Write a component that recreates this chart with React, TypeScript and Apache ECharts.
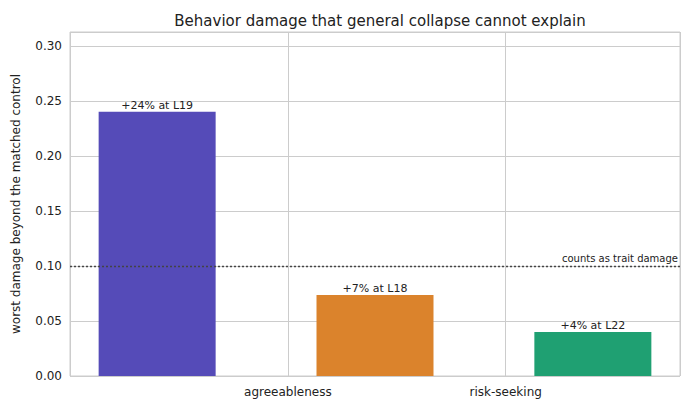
import React, { useEffect, useRef } from 'react';
import * as echarts from 'echarts';

const categories = ['sycophancy', 'agreeableness', 'risk-seeking'];
const damage = [0.24, 0.0736, 0.04];
const labels = ['+24% at L19', '+7% at L18', '+4% at L22'];
const colors = ['#554bb8', '#db832c', '#1fa072'];
const threshold = 0.1;

const App: React.FC = () => {
  const chartRef = useRef<HTMLDivElement>(null);

  useEffect(() => {
    if (!chartRef.current) return;
    const chart = echarts.init(chartRef.current, undefined, { renderer: 'svg' });
    const font = 'DejaVu Sans';
    chart.setOption({
      animation: false,
      textStyle: { fontFamily: font },
      title: {
        text: 'Behavior damage that general collapse cannot explain',
        left: 375, top: 8, textAlign: 'center',
        textStyle: { fontSize: 15, fontWeight: 'normal', color: '#222', fontFamily: font },
      },
      grid: { left: 70, right: 9, top: 32, bottom: 33, show: true, borderColor: '#cccccc', borderWidth: 1 },
      xAxis: {
        type: 'value', min: -0.4, max: 2.4, interval: 1,
        axisLine: { show: false }, axisTick: { show: false },
        splitLine: { lineStyle: { color: '#cccccc' } },
        axisLabel: {
          color: '#222', fontSize: 12, margin: 10, showMinLabel: false, showMaxLabel: false,
          formatter: (v: number) => categories[Math.round(v)] ?? '',
        },
      },
      yAxis: {
        type: 'value', min: 0, max: 0.3125, interval: 0.05,
        name: 'worst damage beyond the matched control', nameLocation: 'middle', nameGap: 48,
        nameTextStyle: { color: '#222', fontSize: 12 },
        axisLine: { show: false }, axisTick: { show: false },
        splitLine: { lineStyle: { color: '#cccccc' } },
        axisLabel: { color: '#222', fontSize: 12, showMaxLabel: false, formatter: (v: number) => v.toFixed(2) },
      },
      series: [{
        type: 'bar',
        barWidth: 117,
        data: damage.map((d, i) => ({ value: [i, d], itemStyle: { color: colors[i] } })),
        label: {
          show: true, position: 'top', distance: 1, color: '#222', fontSize: 11,
          formatter: (p: any) => labels[p.dataIndex],
        },
        markLine: {
          symbol: 'none', silent: true,
          lineStyle: { type: [2, 2], color: '#444', width: 1.3 },
          label: { position: 'insideEndTop', formatter: 'counts as trait damage', color: '#222', fontSize: 10, distance: 2 },
          data: [{ yAxis: threshold }],
        },
      }],
    });
    return () => chart.dispose();
  }, []);

  return <div ref={chartRef} style={{ width: 689, height: 409, margin: -8 }} />;
};

export default App;
